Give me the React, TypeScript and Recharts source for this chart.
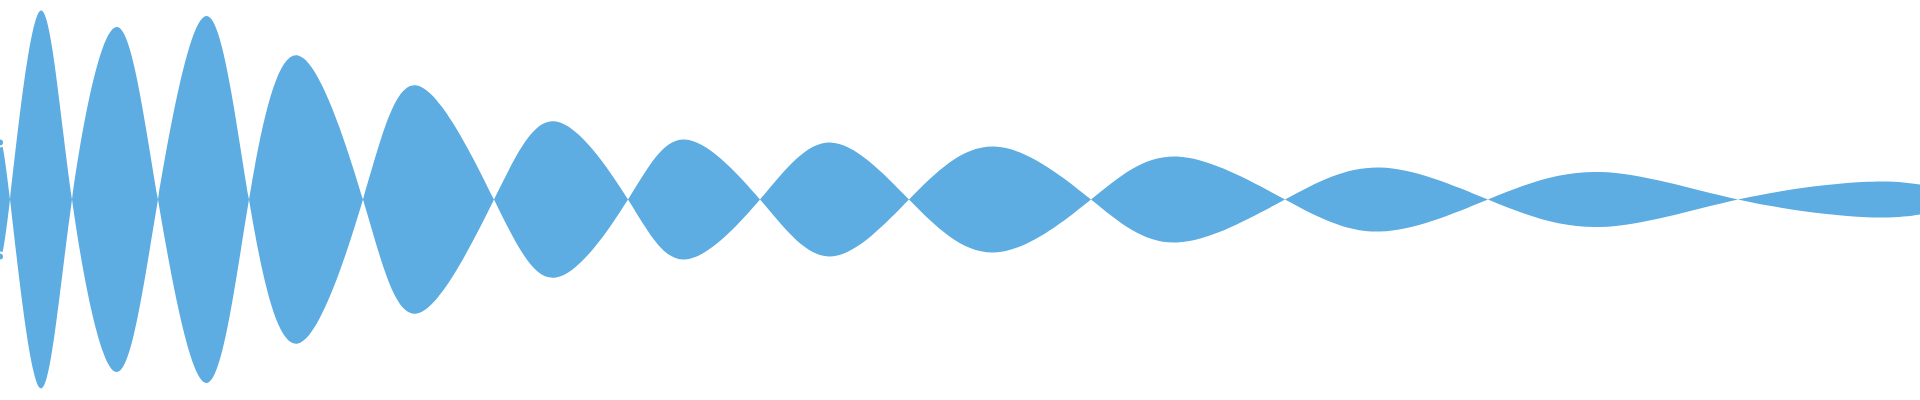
import { AreaChart, Area, XAxis, YAxis } from "recharts";

// time positions of crossings / peaks, and signed amplitude at each one
const time = [
  0, 10, 40, 72, 117, 158, 207, 249, 298, 363, 417, 494, 556, 628, 685, 760,
  830, 909, 994, 1091, 1177, 1285, 1380, 1488, 1600, 1738, 1862, 1920,
];
const amplitude = [
  57, 0, -188.5, 0, 172.5, 0, -183.5, 0, 144, 0, -114, 0, 78, 0, -60, 0, 57, 0,
  -53, 0, 43, 0, -32, 0, 27.5, 0, -17.5, -15,
];

const data = time.map((t, i) => ({ t, band: [-amplitude[i], amplitude[i]] }));

export default function App() {
  return (
    <div style={{ position: "absolute", left: 0, top: 0 }}>
      <AreaChart
        width={1920}
        height={400}
        data={data}
        margin={{ top: 0, right: 0, bottom: 0, left: 0 }}
      >
        <XAxis dataKey="t" type="number" domain={[0, 1920]} hide />
        <YAxis type="number" domain={[-200.5, 199.5]} hide />
        <Area
          dataKey="band"
          type="natural"
          stroke="none"
          fill="#5dade2"
          fillOpacity={1}
          isAnimationActive={false}
        />
      </AreaChart>
    </div>
  );
}
